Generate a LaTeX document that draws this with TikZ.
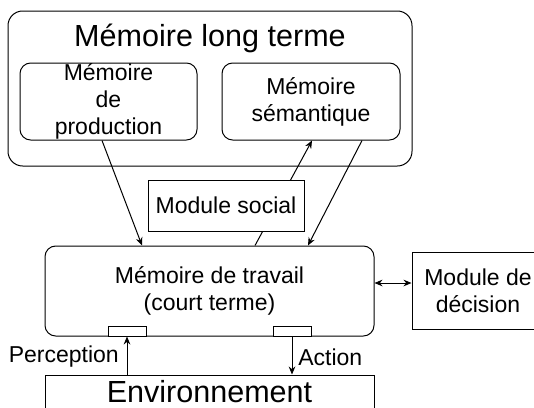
\documentclass[tikz,border=0pt]{standalone}
\usepackage{fontspec}
\setmainfont{Liberation Sans}
\usetikzlibrary{arrows.meta}

\begin{document}
\begin{tikzpicture}[x=0.75pt, y=-0.75pt,
		box/.style={draw, line width=0.75pt, inner sep=0pt, align=center, font=\fontsize{17.25}{20.25}\selectfont},
		rbox/.style={box, rounded corners=8pt},
		big/.style={font=\fontsize{22.9}{27}\selectfont},
		lbl/.style={inner sep=0pt, font=\fontsize{17.25}{20.25}\selectfont},
		port/.style={draw, line width=0.75pt, fill=white, minimum width=28.5pt, minimum height=7.5pt, inner sep=0pt},
		link/.style={line width=0.75pt, -{Stealth[length=6pt, width=5pt]}}]
				\useasboundingbox (0, 0) rectangle (534, 407);
				\clip (0, 0) rectangle (534, 407);
				\node[rbox, rounded corners=11pt, minimum width=404*0.75pt, minimum height=155*0.75pt] (ltm) at (210, 88.5) {};
				\node[big] (ltmtitle) at (210, 38) {Mémoire long terme};
				\node[rbox, minimum width=177*0.75pt, minimum height=77*0.75pt] (prod) at (108.5, 101.5) {Mémoire\\de\\production};
				\node[rbox, minimum width=178*0.75pt, minimum height=77*0.75pt] (sem) at (311, 101.5) {Mémoire\\sémantique};
				\node[rbox, minimum width=329*0.75pt, minimum height=90*0.75pt] (wm) at (209.5, 291) {Mémoire de travail\\(court terme)};
				\node[port] (portl) at (127, 331) {};
				\node[port] (portr) at (292, 331) {};
				\node[box, minimum width=132*0.75pt, minimum height=77*0.75pt] (dec) at (478, 290.5) {Module de\\décision};
				\node[box, big, minimum width=329*0.75pt, minimum height=34*0.75pt] (env) at (209.5, 392) {Environnement};
				\draw[link] ([xshift=-6.5*0.75pt]prod.south) -- ([xshift=-67.5*0.75pt]wm.north);
				\draw[link] ([xshift=51*0.75pt]sem.south) -- ([xshift=98.5*0.75pt]wm.north);
				\draw[link] ([xshift=45.5*0.75pt]wm.north) -- ([xshift=1*0.75pt]sem.south);
				\node[box, fill=white, minimum width=156*0.75pt, minimum height=51*0.75pt] (social) at (226, 205.5) {Module social};
				\draw[line width=0.75pt, {Stealth[length=6pt, width=5pt]}-{Stealth[length=6pt, width=5pt]}] ([yshift=6pt]wm.east) -- ([yshift=6pt]wm.east -| dec.west);
				\draw[link] (env.north -| portl) -- (portl.south);
				\draw[link] (portr.south) -- (env.north -| portr);
				\node[lbl, anchor=east] (perc) at (119, 357) {Perception};
				\node[lbl, anchor=west] (act) at (298, 357) {Action};
			\end{tikzpicture}
\end{document}
